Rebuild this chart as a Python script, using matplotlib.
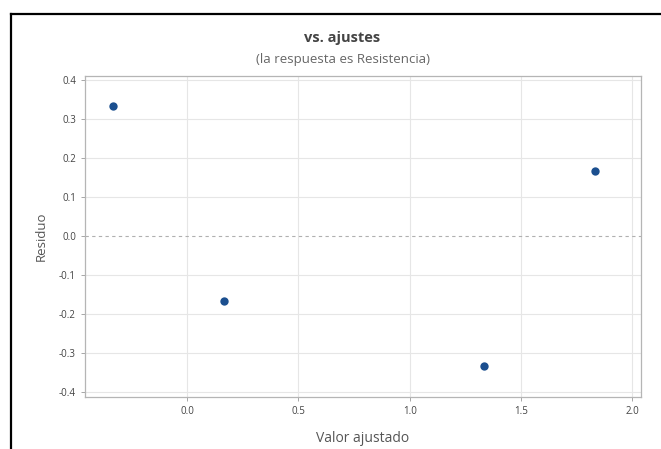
import numpy as np
import matplotlib.pyplot as plt
from matplotlib.lines import Line2D

# fitted values and residuals (respuesta: Resistencia)
ajustados = [-0.3333, 0.1667, 1.3333, 1.8333]
residuos = [0.3333, -0.1667, -0.3333, 0.1667]

xticks = [0.0, 0.5, 1.0, 1.5, 2.0]
yticks = [-0.4, -0.3, -0.2, -0.1, 0.0, 0.1, 0.2, 0.3, 0.4]

plt.rcParams['font.family'] = ['Open Sans', 'DejaVu Sans']

fig = plt.figure(figsize=(6.61, 4.49), dpi=100)
ax = fig.add_axes([85 / 661, 1 - 397 / 449, (641 - 85) / 661, (397 - 76) / 449])

# grid
for xt in xticks:
    ax.axvline(xt, color='#e6e6e6', lw=0.8, zorder=0)
for yt in yticks:
    if yt == 0.0:
        ax.axhline(yt, color='#b0b0b0', lw=0.8, ls=(0, (3, 3)), zorder=1)
    else:
        ax.axhline(yt, color='#e6e6e6', lw=0.8, zorder=0)

ax.scatter(ajustados, residuos, s=36, color='#1b4f8f', zorder=3, linewidths=0)

ax.set_xlim(-0.459, 2.04)
ax.set_ylim(-0.413, 0.41)
ax.set_xticks(xticks)
ax.set_yticks(yticks)
ax.set_xticklabels(['%.1f' % v for v in xticks])
ax.set_yticklabels(['%.1f' % v for v in yticks])
ax.tick_params(colors='#444444', labelsize=7, length=3, width=0.6, color='#999999')

for sp in ax.spines.values():
    sp.set_color('#b5b5b5')
    sp.set_linewidth(0.9)

ax.set_xlabel('Valor ajustado', fontsize=10, color='#555555', labelpad=10)
ax.set_ylabel('Residuo', fontsize=9.5, color='#555555', labelpad=8)

fig.text(342 / 661, 1 - 38 / 449, 'vs. ajustes', ha='center', va='center',
         fontsize=10.5, fontweight='bold', color='#444444')
fig.text(343 / 661, 1 - 59 / 449, '(la respuesta es Resistencia)', ha='center', va='center',
         fontsize=9.5, color='#666666')

# outer frame of the screenshot (left and top edges only)
fig.add_artist(Line2D([11 / 661, 11 / 661], [0, 1 - 14 / 449], color='black', lw=1.6,
                      transform=fig.transFigure))
fig.add_artist(Line2D([11 / 661, 1], [1 - 14 / 449, 1 - 14 / 449], color='black', lw=1.6,
                      transform=fig.transFigure))

fig.savefig('out.png', dpi=100)
